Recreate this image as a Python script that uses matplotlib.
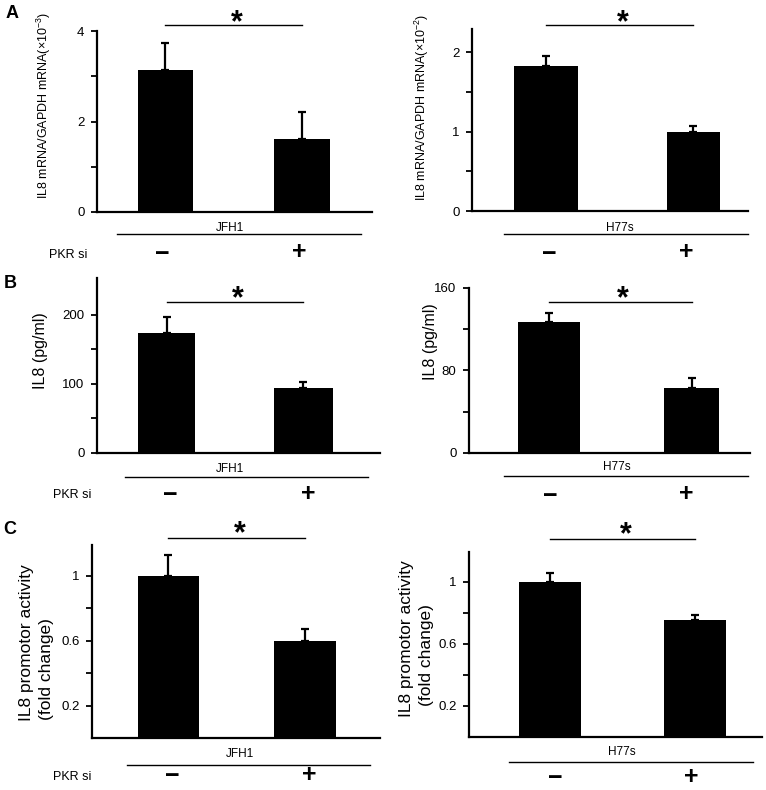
import matplotlib
matplotlib.use('Agg')
import matplotlib.pyplot as plt
from matplotlib.lines import Line2D
from matplotlib.transforms import blended_transform_factory

plt.rcParams['font.family'] = ['Liberation Sans', 'DejaVu Sans']
plt.rcParams['mathtext.fontset'] = 'custom'
plt.rcParams['mathtext.rm'] = 'Liberation Sans'
plt.rcParams['mathtext.it'] = 'Liberation Sans:italic'
plt.rcParams['mathtext.bf'] = 'Liberation Sans:bold'

# ---------------- data ----------------
conditions = ['\u2212', '+']          # PKR si  -  / +
treatment_label = 'PKR si'

a_jfh1 = [3.13, 1.62]
a_jfh1_err = [0.60, 0.58]
a_h77s = [1.82, 1.00]
a_h77s_err = [0.13, 0.065]

b_jfh1 = [174, 94]
b_jfh1_err = [23, 9]
b_h77s = [127, 63]
b_h77s_err = [9, 10]

c_jfh1 = [1.00, 0.60]
c_jfh1_err = [0.13, 0.07]
c_h77s = [1.00, 0.755]
c_h77s_err = [0.058, 0.032]

a_ticks = [0, 2, 4]
a_minor = [1, 3]
a2_ticks = [0, 1, 2]
a2_minor = [0.5, 1.5]
b_ticks = [0, 100, 200]
b_minor = [50, 150]
b2_ticks = [0, 80, 160]
b2_minor = [40, 120]
c_ticks = [0.2, 0.6, 1.0]
c_tick_labels = ['0.2', '0.6', '1']
c_minor = [0.4, 0.8]

ylabel_a1 = r'IL8 mRNA/GAPDH mRNA(×10$^{-3}$)'
ylabel_a2 = r'IL8 mRNA/GAPDH mRNA(×10$^{-2}$)'
ylabel_b = 'IL8 (pg/ml)'
ylabel_c1 = 'IL8 promotor activity'
ylabel_c2 = '(fold change)'

W, H = 766, 790
fig = plt.figure(figsize=(W / 100, H / 100), dpi=100)


def fx(x):
    return x / W


def fy(y):
    return 1 - y / H


panels = [
    dict(vals=a_jfh1, errs=a_jfh1_err, group='JFH1', box=(97, 372, 31, 212),
         xlim=(-0.50, 1.51), widths=[0.40, 0.41], ylim=(0, 4),
         ticks=a_ticks, labels=[str(t) for t in a_ticks], minor=a_minor,
         sig_y=25, ast_y=14, glabel=(230, 228), gline=(117, 361, 234),
         pkr=(68, 255), signs=[(162, 254), (299, 252)], letter=('A', 12, 14),
         ylabel=[(ylabel_a1, 44, 105, 9)]),
    dict(vals=a_h77s, errs=a_h77s_err, group='H77s', box=(472, 748, 29, 211),
         xlim=(-0.50, 1.37), widths=[0.43, 0.36], ylim=(0, 2.29),
         ticks=a2_ticks, labels=[str(t) for t in a2_ticks], minor=a2_minor,
         sig_y=25, ast_y=14, glabel=(620, 228), gline=(504, 748, 234),
         pkr=None, signs=[(549, 254), (686, 252)], letter=None,
         ylabel=[(ylabel_a2, 422, 107, 9)]),
    dict(vals=b_jfh1, errs=b_jfh1_err, group='JFH1', box=(97, 380, 278, 453),
         xlim=(-0.51, 1.56), widths=[0.42, 0.43], ylim=(0, 253),
         ticks=b_ticks, labels=[str(t) for t in b_ticks], minor=b_minor,
         sig_y=302, ast_y=290, glabel=(230, 469), gline=(125, 368, 477),
         pkr=(72, 495), signs=[(170, 495), (308, 494)], letter=('B', 10, 284),
         ylabel=[(ylabel_b, 41, 351, 11.5)]),
    dict(vals=b_h77s, errs=b_h77s_err, group='H77s', box=(469, 750, 288, 453),
         xlim=(-0.56, 1.41), widths=[0.435, 0.39], ylim=(0, 160),
         ticks=b2_ticks, labels=[str(t) for t in b2_ticks], minor=b2_minor,
         sig_y=302, ast_y=290, glabel=(617, 467), gline=(504, 748, 476),
         pkr=None, signs=[(550, 496), (686, 494)], letter=None,
         ylabel=[(ylabel_b, 430, 342, 11.5)]),
    dict(vals=c_jfh1, errs=c_jfh1_err, group='JFH1', box=(92, 380, 545, 738),
         xlim=(-0.56, 1.55), widths=[0.45, 0.45], ylim=(0, 1.19),
         ticks=c_ticks, labels=c_tick_labels, minor=c_minor,
         sig_y=538, ast_y=525, glabel=(240, 754), gline=(127, 370, 765),
         pkr=(72, 777), signs=[(172, 776), (309, 775)], letter=('C', 10, 530),
         ylabel=[(ylabel_c1, 27, 643, 12.5), (ylabel_c2, 46, 669, 12.5)]),
    dict(vals=c_h77s, errs=c_h77s_err, group='H77s', box=(469, 762, 552, 737),
         xlim=(-0.56, 1.46), widths=[0.43, 0.43], ylim=(0, 1.19),
         ticks=c_ticks, labels=c_tick_labels, minor=c_minor,
         sig_y=539, ast_y=526, glabel=(622, 752), gline=(509, 753, 762),
         pkr=None, signs=[(555, 778), (691, 777)], letter=None,
         ylabel=[(ylabel_c1, 406, 639, 12.5), (ylabel_c2, 427, 655, 12.5)]),
]

for p in panels:
    l, r, t, b = p['box']
    ax = fig.add_axes([fx(l), fy(b), (r - l) / W, (b - t) / H])
    x = list(range(len(p['vals'])))
    ax.bar(x, p['vals'], width=p['widths'], color='black', zorder=3)
    ax.errorbar(x, p['vals'], yerr=[[0] * len(x), p['errs']], fmt='none',
                ecolor='black', elinewidth=1.6, capsize=3, capthick=1.6, zorder=2)
    ax.set_xlim(*p['xlim'])
    ax.set_ylim(*p['ylim'])
    for s in ['top', 'right']:
        ax.spines[s].set_visible(False)
    for s in ['left', 'bottom']:
        ax.spines[s].set_linewidth(1.6)
    ax.set_xticks([])
    ax.set_yticks(p['ticks'])
    ax.set_yticklabels(p['labels'])
    ax.set_yticks(p['minor'], minor=True)
    ax.tick_params(axis='y', which='both', direction='out', length=4,
                   width=1.3, labelsize=9.5, pad=5)

    trans = blended_transform_factory(ax.transData, fig.transFigure)
    ax.plot([x[0], x[1]], [fy(p['sig_y'])] * 2, color='black', lw=1,
            transform=trans, clip_on=False)
    # asterisk glyph sits high in its text box: anchor the baseline
    ax.text((x[0] + x[1]) / 2 + 0.02, fy(p['ast_y'] + 17), '*', transform=trans,
            ha='center', va='baseline', fontsize=22, fontweight='bold')

    gx, gy = p['glabel']
    fig.text(fx(gx), fy(gy), p['group'], ha='center', va='center', fontsize=8.5)
    x1, x2, ly = p['gline']
    fig.add_artist(Line2D([fx(x1), fx(x2)], [fy(ly), fy(ly)], color='black', lw=1,
                          transform=fig.transFigure))
    if p['pkr']:
        fig.text(fx(p['pkr'][0]), fy(p['pkr'][1]), treatment_label,
                 ha='center', va='center', fontsize=9)
    for (sx, sy), c in zip(p['signs'], conditions):
        fig.text(fx(sx), fy(sy), c, ha='center', va='center', fontsize=18,
                 fontweight='bold')
    if p['letter']:
        lt, lx, lyy = p['letter']
        fig.text(fx(lx), fy(lyy), lt, ha='center', va='center', fontsize=13,
                 fontweight='bold')
    for txt, tx, ty, fs in p['ylabel']:
        fig.text(fx(tx), fy(ty), txt, rotation=90, ha='center', va='center',
                 fontsize=fs)

fig.savefig('out.png', dpi=100)
